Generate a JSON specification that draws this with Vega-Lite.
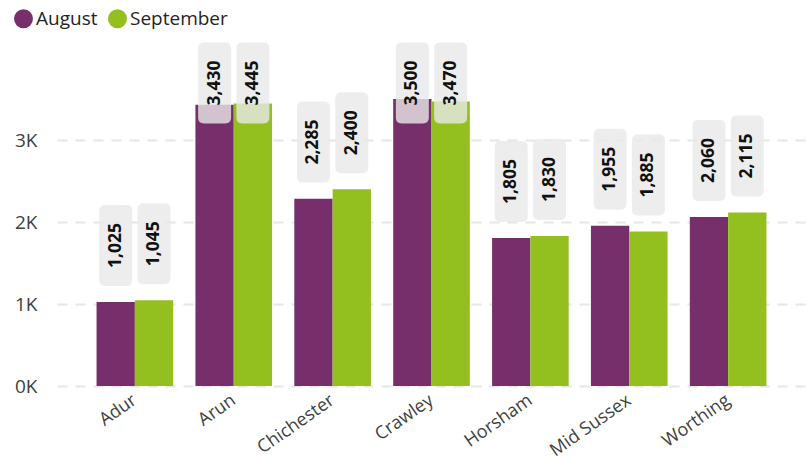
{
  "$schema": "https://vega.github.io/schema/vega-lite/v6.json",
  "width": 749,
  "height": 346,
  "autosize": "none",
  "padding": {"left": 57, "top": 40, "right": 0, "bottom": 79},
  "background": "white",
  "config": {"view": {"stroke": null}, "font": "Open Sans"},
  "data": {
    "values": [
      {"district": "Adur", "month": "August", "value": 1025},
      {"district": "Adur", "month": "September", "value": 1045},
      {"district": "Arun", "month": "August", "value": 3430},
      {"district": "Arun", "month": "September", "value": 3445},
      {"district": "Chichester", "month": "August", "value": 2285},
      {"district": "Chichester", "month": "September", "value": 2400},
      {"district": "Crawley", "month": "August", "value": 3500},
      {"district": "Crawley", "month": "September", "value": 3470},
      {"district": "Horsham", "month": "August", "value": 1805},
      {"district": "Horsham", "month": "September", "value": 1830},
      {"district": "Mid Sussex", "month": "August", "value": 1955},
      {"district": "Mid Sussex", "month": "September", "value": 1885},
      {"district": "Worthing", "month": "August", "value": 2060},
      {"district": "Worthing", "month": "September", "value": 2115}
    ]
  },
  "encoding": {
    "x": {
      "field": "district",
      "type": "nominal",
      "sort": null,
      "scale": {"paddingInner": 0.225, "paddingOuter": 0.4},
      "axis": {
        "title": null,
        "labelAngle": -35,
        "labelAlign": "right",
        "labelBaseline": "top",
        "domain": false,
        "ticks": false,
        "labelFontSize": 18,
        "labelColor": "#404040",
        "labelPadding": 5,
        "labelOffset": -5,
        "labelOverlap": false,
        "labelBound": false
      }
    },
    "xOffset": {
      "field": "month",
      "type": "nominal",
      "sort": ["August", "September"],
      "scale": {"paddingInner": 0, "paddingOuter": 0}
    }
  },
  "layer": [
    {
      "mark": {"type": "bar"},
      "encoding": {
        "y": {
          "field": "value",
          "type": "quantitative",
          "scale": {"domain": [0, 4220]},
          "axis": {
            "values": [0, 1000, 2000, 3000],
            "labelExpr": "datum.value / 1000 + 'K'",
            "domain": false,
            "ticks": false,
            "tickSize": 0,
            "labelPadding": 20,
            "labelFontSize": 19,
            "labelColor": "#404040",
            "grid": true,
            "gridDash": [10, 8],
            "gridColor": "#E6E6E6",
            "gridWidth": 2,
            "title": null
          }
        },
        "color": {
          "field": "month",
          "type": "nominal",
          "scale": {"domain": ["August", "September"], "range": ["#772F6C", "#93C01F"]},
          "legend": {
            "title": null,
            "orient": "none",
            "legendX": -43,
            "legendY": -31,
            "direction": "horizontal",
            "symbolType": "circle",
            "symbolSize": 361,
            "symbolStrokeWidth": 0,
            "labelFontSize": 19,
            "labelColor": "#252423",
            "labelOffset": 3,
            "columnPadding": 10,
            "padding": 0
          }
        }
      }
    },
    {
      "mark": {
        "type": "point",
        "shape": "M-0.259,-1 L0.259,-1 Q0.407,-1 0.407,-0.852 L0.407,0.852 Q0.407,1 0.259,1 L-0.259,1 Q-0.407,1 -0.407,0.852 L-0.407,-0.852 Q-0.407,-1 -0.259,-1 Z",
        "size": 6561,
        "filled": true,
        "fill": "#E8E8E8",
        "opacity": 0.8,
        "strokeWidth": 0,
        "yOffset": -56.5
      },
      "encoding": {
        "y": {
          "field": "value",
          "type": "quantitative",
          "scale": {"domain": [0, 3006], "range": [346, 99.5], "clamp": true, "zero": false, "nice": false},
          "axis": null
        }
      }
    },
    {
      "mark": {
        "type": "text",
        "angle": 270,
        "fontWeight": "bold",
        "fontSize": 17.5,
        "yOffset": -56.5,
        "baseline": "middle",
        "align": "center",
        "color": "#111111"
      },
      "encoding": {
        "y": {
          "field": "value",
          "type": "quantitative",
          "scale": {"domain": [0, 3006], "range": [346, 99.5], "clamp": true, "zero": false, "nice": false},
          "axis": null
        },
        "text": {"field": "value", "type": "quantitative", "format": ","}
      }
    }
  ],
  "resolve": {"scale": {"y": "independent"}}
}
